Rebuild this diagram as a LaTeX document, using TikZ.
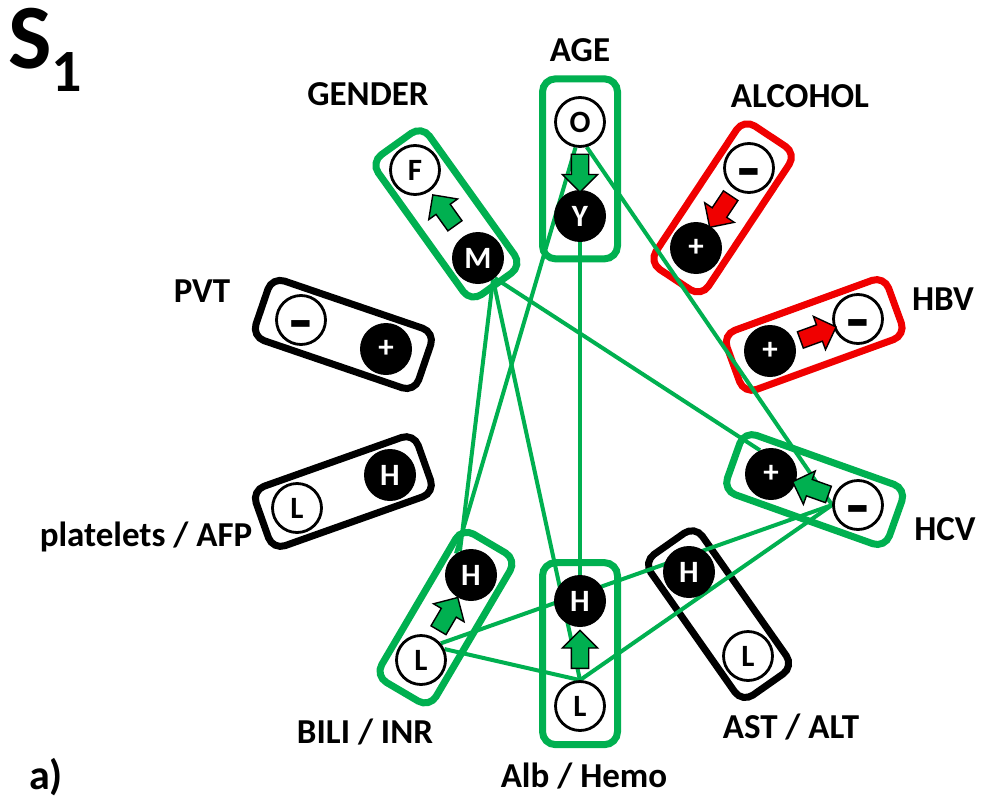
\documentclass[tikz,border=0pt]{standalone}
\usepackage{fontspec}
\setmainfont{Carlito}
\usetikzlibrary{shapes.arrows}
\definecolor{grn}{RGB}{0,176,80}
\definecolor{rd}{RGB}{240,0,0}
\pgfdeclarelayer{boxes}
\pgfdeclarelayer{links}
\pgfsetlayers{boxes,links,main}
% thick minus sign used inside the level circles
\newcommand\minusbar{\raisebox{-22pt}[0pt][0pt]{\scalebox{2.4}[2.1]{-}}}

\begin{document}
\begin{tikzpicture}[x=1pt,y=-1pt,
  lvl/.style={circle, inner sep=0pt, font=\fontsize{31}{31}\selectfont\bfseries},
  lo/.style={lvl, draw=black, line width=2.8pt, fill=white, minimum size=49pt},
  hi/.style={lvl, fill=black, text=white, minimum size=52pt},
  grp/.style={rectangle, rounded corners=13pt, line width=7pt, inner sep=0pt,
    minimum width=172pt, minimum height=63pt, midway, sloped},
  ggrp/.style={grp, draw=grn},
  rgrp/.style={grp, draw=rd},
  kgrp/.style={grp, draw=black},
  vgrp/.style={ggrp, minimum width=180pt, minimum height=75pt},
  link/.style={draw=grn, line width=4pt},
  blockarrow/.style={single arrow, draw=black, line width=1.4pt, inner xsep=0pt,
    inner ysep=8pt, single arrow head extend=9pt, minimum height=38pt,
    midway, sloped, allow upside down},
  garrow/.style={blockarrow, fill=grn},
  rarrow/.style={blockarrow, fill=rd},
  lab/.style={font=\fontsize{35}{35}\selectfont\bfseries, anchor=base, inner sep=0pt}
]
\useasboundingbox (0,0) rectangle (990,800);

% level circles
\node[lo] (O)   at (580,122) {O};
\node[hi] (Y)   at (580,216) {Y};
\node[lo] (F)   at (415,170) {F};
\node[hi] (M)   at (478,258) {M};
\node[lo] (alM) at (749,168) {\minusbar};
\node[hi] (alP) at (696,248) {+};
\node[hi] (hbP) at (770,351) {+};
\node[lo] (hbM) at (858,319) {\minusbar};
\node[hi] (hcP) at (771,474) {+};
\node[lo] (hcM) at (858,505) {\minusbar};
\node[hi] (stH) at (689,572) {H};
\node[lo] (stL) at (748,656) {L};
\node[hi] (aH)  at (580,601) {H};
\node[lo] (aL)  at (580,706) {L};
\node[hi] (bH)  at (471,575) {H};
\node[lo] (bL)  at (421,660) {L};
\node[lo] (pvM) at (301,320) {\minusbar};
\node[hi] (pvP) at (386,349) {+};
\node[lo] (plL) at (297,508) {L};
\node[hi] (plH) at (390,475) {H};

% group frames
\begin{pgfonlayer}{boxes}
\fill[white] (0,0) rectangle (990,800);
\path (O) -- (Y) node[vgrp] (ageBox) {};
\path (aH) -- (aL) node[vgrp, minimum width=182pt] (albBox) {};
\path (F) -- (M) node[ggrp] (genBox) {};
\path (alM) -- (alP) node[rgrp] (alcBox) {};
\path (hbP) -- (hbM) node[rgrp] (hbvBox) {};
\path (hcP) -- (hcM) node[ggrp] (hcvBox) {};
\path (stH) -- (stL) node[kgrp] (astBox) {};
\path (bH) -- (bL) node[ggrp] (biliBox) {};
\path (pvM) -- (pvP) node[kgrp] (pvtBox) {};
\path (plL) -- (plH) node[kgrp] (pltBox) {};
\end{pgfonlayer}

% associations
\begin{pgfonlayer}{links}
\draw[link] (O.-100) -- (bH.125);
\draw[link] (O.-75) -- (hcM.180);
\draw[link] (M.-55) -- (bH.115);
\draw[link] (M.-55) -- (aL.north);
\draw[link] (M.-50) -- (hcP.115);
\draw[link] (Y.south) -- (aH.north);
\draw[link] (bL.40) -- (hcM.180);
\draw[link] (bL.25) -- (aL.north);
\draw[link] (aL.north) -- (hcM.180);
\end{pgfonlayer}

% transitions inside the groups
\path (O) -- (Y) node[garrow] (ageArr) {};
\path (M) -- (F) node[garrow] (genArr) {};
\path (alM) -- (alP) node[rarrow] (alcArr) {};
\path (hbP) -- (hbM) node[rarrow] (hbvArr) {};
\path (hcM) -- (hcP) node[garrow] (hcvArr) {};
\path (bL) -- (bH) node[garrow] (biliArr) {};
\path (aL) -- (aH) node[garrow] (albArr) {};

% captions
\node[lab] (tAge)    at (580,62)  {AGE};
\node[lab] (tGender) at (368,105) {GENDER};
\node[lab] (tAlc)    at (800,107) {ALCOHOL};
\node[lab] (tHbv)    at (943,310) {HBV};
\node[lab] (tPvt)    at (202,302) {PVT};
\node[lab] (tPlt)    at (146,546) {platelets / AFP};
\node[lab] (tHcv)    at (945,540) {HCV};
\node[lab] (tBili)   at (365,743) {BILI / INR};
\node[lab] (tAlb)    at (584,787) {Alb / Hemo};
\node[lab] (tAst)    at (791,738) {AST / ALT};
\node[anchor=base west, inner sep=0pt, font=\fontsize{42}{42}\selectfont\bfseries] (tPanel) at (29,789) {a)};
\node[anchor=base west, inner sep=0pt, font=\bfseries] (tTitle) at (8,68)
  {\fontsize{92}{92}\selectfont S\raisebox{-24pt}{\fontsize{60}{60}\selectfont 1}};
\end{tikzpicture}
\end{document}
